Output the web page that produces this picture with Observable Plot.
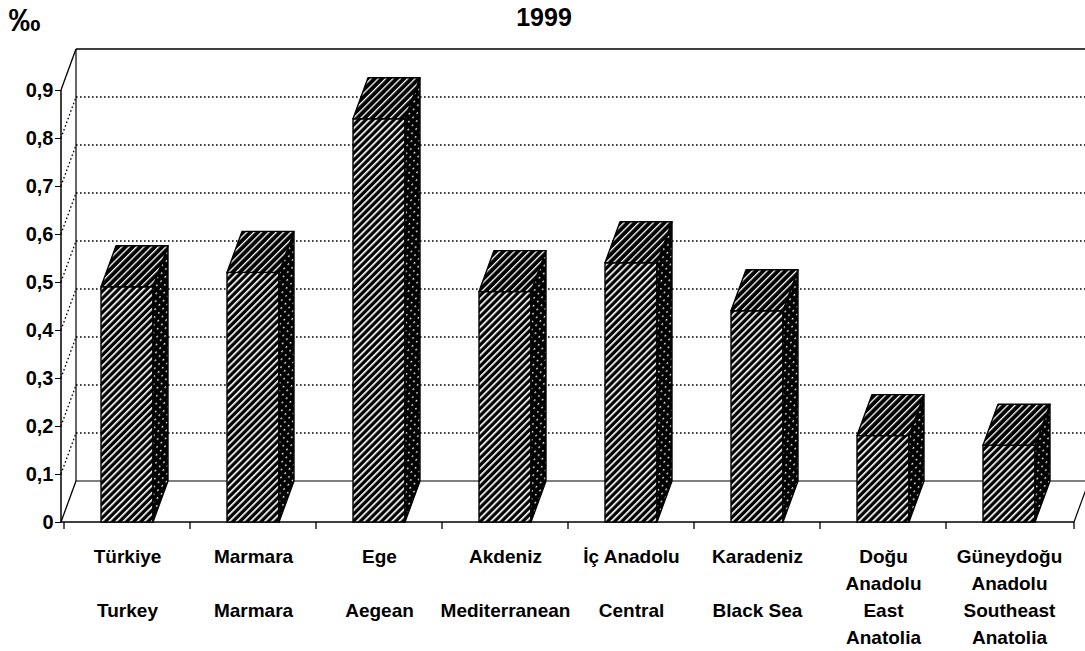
<!DOCTYPE html>
<html>
<head>
<meta charset="utf-8">
<script src="https://cdn.jsdelivr.net/npm/d3@7"></script>
<script src="https://cdn.jsdelivr.net/npm/@observablehq/plot@0.6"></script>
<style>
  html, body { margin: 0; padding: 0; background: #fff; }
  #chart svg { display: block; }
</style>
</head>
<body>
<div id="chart"></div>
<script>
// ---- data ----
const title = "1999";
const unitLabel = "‰";
const regionsTr = ["Türkiye", "Marmara", "Ege", "Akdeniz", "İç Anadolu", "Karadeniz", "Doğu\nAnadolu", "Güneydoğu\nAnadolu"];
const regionsEn = ["Turkey", "Marmara", "Aegean", "Mediterranean", "Central", "Black Sea", "East\nAnatolia", "Southeast\nAnatolia"];
const rates = [0.49, 0.52, 0.84, 0.48, 0.54, 0.44, 0.18, 0.16];
const yTicks = [0, 0.1, 0.2, 0.3, 0.4, 0.5, 0.6, 0.7, 0.8, 0.9];

const data = regionsTr.map((tr, i) => ({
  tr,
  en: regionsEn[i],
  rate: rates[i],
  label: tr + (tr.includes("\n") ? "\n" : "\n\n") + regionsEn[i]
}));

// ---- 3D projection / style constants ----
const DX = 15, DY = -41;       // depth offset in pixels
const INSET = 37;               // bar inset inside each category band
const FONT = "'Liberation Sans', Arial, Helvetica, sans-serif";

function bandwidthOf(x, dims, n) {
  if (typeof x.bandwidth === "function") return x.bandwidth();
  if (typeof x.bandwidth === "number") return x.bandwidth;
  return (dims.width - dims.marginLeft - dims.marginRight) / n;
}

// pattern definitions
function defsMark() {
  const g = d3.create("svg:g");
  const defs = g.append("defs");
  function stripes(id, pitch, lineW, h, dashArr) {
    const p = defs.append("pattern")
      .attr("id", id).attr("patternUnits", "userSpaceOnUse")
      .attr("width", pitch).attr("height", h).attr("patternTransform", "rotate(45)");
    p.append("rect").attr("width", pitch).attr("height", h).attr("fill", "#000");
    const ln = p.append("line")
      .attr("x1", lineW / 2).attr("x2", lineW / 2)
      .attr("y1", 0).attr("y2", h)
      .attr("stroke", "#fff").attr("stroke-width", lineW);
    if (dashArr) ln.attr("stroke-dasharray", dashArr);
  }
  stripes("hFront", 5, 1.7, 5, null);
  stripes("hTop", 5.2, 1.3, 5, null);
  stripes("hSide", 5.2, 1.3, 6, "1.8 4.2");
  return g.node();
}

// walls, floor, gridlines
function wallsMark(index, scales, values, dims) {
  const {y} = scales;
  const L = dims.marginLeft, R = dims.width - dims.marginRight;
  const y0 = y(0), yTop = y(yTicks[yTicks.length - 1]);
  const g = d3.create("svg:g").attr("fill", "none").attr("stroke", "#000");
  for (const v of yTicks.slice(1, -1)) {
    g.append("line").attr("x1", L).attr("y1", y(v)).attr("x2", L + DX).attr("y2", y(v) + DY)
      .attr("stroke-width", 1.3).attr("stroke-dasharray", "1.6 2.4");
    g.append("line").attr("x1", L + DX).attr("y1", y(v) + DY).attr("x2", R + DX + 10).attr("y2", y(v) + DY)
      .attr("stroke-width", 1.3).attr("stroke-dasharray", "1.6 2.4");
  }
  const solid = (x1, y1, x2, y2, w = 1.3) =>
    g.append("line").attr("x1", x1).attr("y1", y1).attr("x2", x2).attr("y2", y2).attr("stroke-width", w);
  solid(L + DX, y0 + DY, L + DX, yTop + DY, 1.2);
  solid(L, yTop, L + DX, yTop + DY, 1.3);
  solid(L, y0, L + DX, y0 + DY, 1.3);
  solid(L + DX, yTop + DY, R + DX + 10, yTop + DY, 1.5);
  solid(L + DX, y0 + DY, R + DX + 10, y0 + DY, 1.1);
  solid(R, y0, R + DX, y0 + DY, 1.2);
  return g.node();
}

function frontMark(index, scales, values, dims) {
  const {x, y} = scales;
  const L = dims.marginLeft, R = dims.width - dims.marginRight;
  const g = d3.create("svg:g").attr("fill", "none").attr("stroke", "#000");
  g.append("line").attr("x1", L).attr("y1", y(0)).attr("x2", L).attr("y2", y(yTicks[yTicks.length - 1])).attr("stroke-width", 1.5);
  g.append("line").attr("x1", L).attr("y1", y(0)).attr("x2", R).attr("y2", y(0)).attr("stroke-width", 1.5);
  const xs = regionsTr.map(d => x(d)).concat([R]);
  for (const px of xs) {
    g.append("line").attr("x1", px).attr("x2", px).attr("y1", y(0)).attr("y2", y(0) + 7).attr("stroke-width", 1.3);
  }
  return g.node();
}

// top and side faces of the bars
function facesMark(index, scales, values, dims) {
  const {x, y} = scales;
  const bw = bandwidthOf(x, dims, regionsTr.length);
  const g = d3.create("svg:g").attr("stroke", "#000").attr("stroke-width", 1.4).attr("stroke-linejoin", "round");
  const pts = a => a.map(p => p.join(",")).join(" ");
  for (const d of data) {
    const x1 = x(d.tr) + INSET, x2 = x(d.tr) + bw - INSET;
    const yv = y(d.rate), y0 = y(0);
    g.append("polygon").attr("points", pts([[x2, y0], [x2 + DX, y0 + DY], [x2 + DX, yv + DY], [x2, yv]])).attr("fill", "url(#hSide)");
    g.append("polygon").attr("points", pts([[x1, yv], [x1 + DX, yv + DY], [x2 + DX, yv + DY], [x2, yv]])).attr("fill", "url(#hTop)");
  }
  return g.node();
}

const chart = Plot.plot({
  width: 1085,
  height: 651,
  marginTop: 90,
  marginBottom: 129,
  marginLeft: 61,
  marginRight: 11,
  style: {fontFamily: FONT, color: "#000", background: "#fff"},
  x: {domain: regionsTr, padding: 0, axis: null},
  y: {domain: [0, 0.9], axis: null},
  marks: [
    defsMark,
    wallsMark,
    frontMark,
    Plot.axisY({
      ticks: yTicks,
      tickFormat: d => String(d).replace(".", ","),
      tickSize: 6,
      tickPadding: 2,
      fontSize: 20,
      fontWeight: "bold",
      label: null
    }),
    Plot.barY(data, {
      x: "tr",
      y: "rate",
      fill: "url(#hFront)",
      stroke: "#000",
      strokeWidth: 1.4,
      insetLeft: INSET,
      insetRight: INSET
    }),
    facesMark,
    Plot.text(data, {
      x: "tr",
      text: "label",
      frameAnchor: "bottom",
      lineAnchor: "top",
      dy: 21,
      lineHeight: 1.42,
      fontSize: 19,
      fontWeight: "bold",
      fill: "#000"
    }),
    Plot.text([title], {
      frameAnchor: "top",
      lineAnchor: "top",
      dx: -24,
      dy: -82,
      fontSize: 25,
      fontWeight: "bold",
      fill: "#000"
    }),
    Plot.text([unitLabel], {
      frameAnchor: "top-left",
      textAnchor: "start",
      lineAnchor: "top",
      dx: -53,
      dy: -82,
      fontSize: 32,
      fontWeight: "bold",
      fill: "#000"
    })
  ]
});

document.getElementById("chart").appendChild(chart);
</script>
</body>
</html>
